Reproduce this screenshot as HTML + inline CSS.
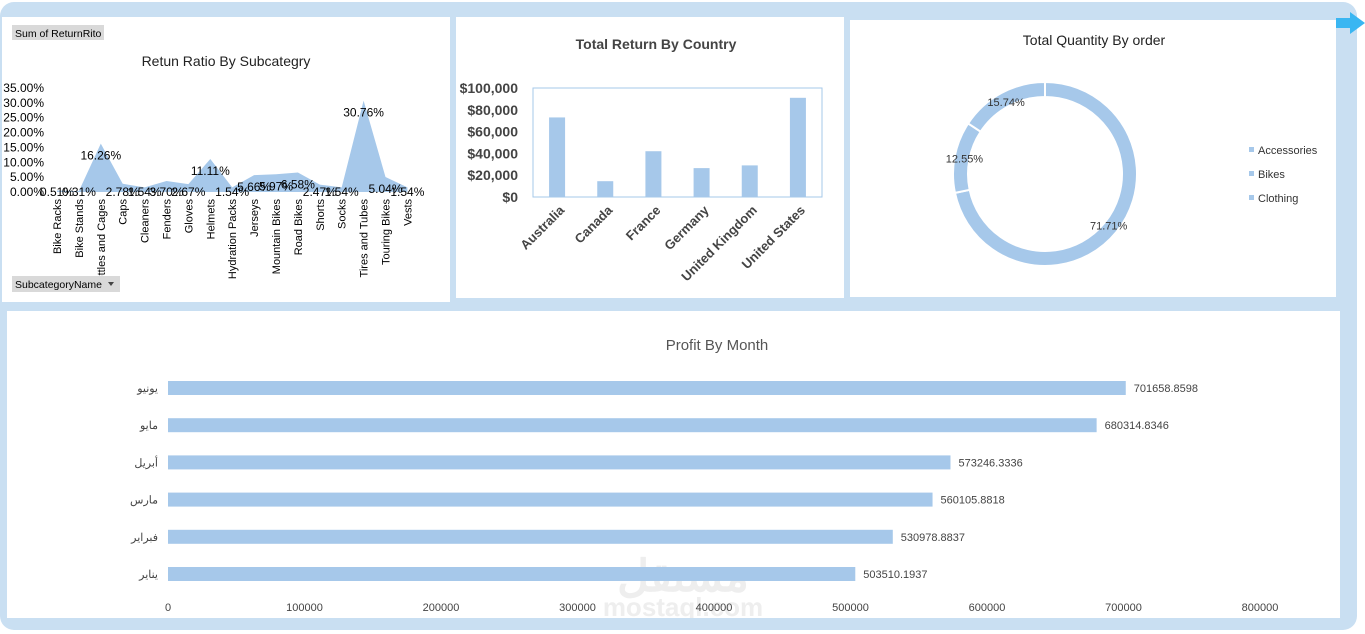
<!DOCTYPE html>
<html><head><meta charset="utf-8"><style>
body{margin:0;width:1365px;height:634px;overflow:hidden;background:#fff;font-family:"Liberation Sans",sans-serif;position:relative}
.frame{position:absolute;left:0;top:2px;width:1357px;height:628px;background:#c9dff2;border-radius:14px}
.p{position:absolute;background:#fff}
svg text{font-family:"Liberation Sans","Noto Sans CJK SC",sans-serif}
</style></head><body>
<div class="frame"></div>
<div style="position:absolute;left:1336px;top:12px;width:29px;height:22px"><svg width="29" height="22"><polygon points="0,6 14,6 14,0 29,11 14,22 14,16 0,16" fill="#3ab6f2"/></svg></div>
<div class="p" style="left:2px;top:17px;width:448px;height:285px"><svg id="c1" width="448" height="285"></svg></div>
<div class="p" style="left:456px;top:17px;width:388px;height:281px"><svg id="c2" width="388" height="281"></svg></div>
<div class="p" style="left:850px;top:20px;width:486px;height:277px"><svg id="c3" width="486" height="277"></svg></div>
<div class="p" style="left:7px;top:311px;width:1333px;height:307px"><svg id="c4" width="1333" height="307"></svg></div>
<script>
const NS="http://www.w3.org/2000/svg";
function mk(svg,tag,attrs,txt){const e=document.createElementNS(NS,tag);for(const k in attrs)e.setAttribute(k,attrs[k]);if(txt!==undefined)e.textContent=txt;svg.appendChild(e);return e;}
// chart 1
const subCats=["Bike Racks","Bike Stands","Bottles and Cages","Caps","Cleaners","Fenders","Gloves","Helmets","Hydration Packs","Jerseys","Mountain Bikes","Road Bikes","Shorts","Socks","Tires and Tubes","Touring Bikes","Vests"];
const subRatio=[0.51,0.31,16.26,2.78,1.54,3.70,2.67,11.11,1.54,5.66,5.97,6.58,2.47,1.54,30.76,5.04,1.54];
const c1Ticks=[0,5,10,15,20,25,30,35];
// chart 2
const countries=["Australia","Canada","France","Germany","United Kingdom","United States"];
const countryReturns=[73000,14500,42000,26500,29000,91000];
const c2Ticks=[0,20000,40000,60000,80000,100000];
// chart 3
const qtyCats=["Accessories","Bikes","Clothing"];
const qtyShares=[71.71,12.55,15.74];
// chart 4
const months=["يونيو","مايو","أبريل","مارس","فبراير","يناير"];
const profits=[701658.8598,680314.8346,573246.3336,560105.8818,530978.8837,503510.1937];
const c4Ticks=[0,100000,200000,300000,400000,500000,600000,700000,800000];

(function(){const s=document.getElementById('c1');
let e=mk(s,'rect',{x:10,y:8,width:92,height:15,fill:'#d9d9d9'});
mk(s,'text',{x:13,y:20,'font-size':10.5,fill:'#000'},'Sum of ReturnRito');
e=mk(s,'text',{x:224,y:49,'font-size':14,'text-anchor':'middle',fill:'#222'},'Retun Ratio By Subcategry');
const y=v=>175-v/35*104, x=i=>55+i*21.9;
c1Ticks.forEach(t=>{e=mk(s,'text',{x:42,y:y(t)+4,'font-size':12,'text-anchor':'end'},t.toFixed(2)+'%');});
let d='M'+x(0)+','+y(0);subRatio.forEach((v,i)=>d+=' L'+x(i)+','+y(v));d+=' L'+x(subRatio.length-1)+','+y(0)+' Z';
e=mk(s,'path',{d:d,fill:'#a6c8ea'});
subRatio.forEach((v,i)=>{e=mk(s,'text',{x:x(i),y:Math.min(y(v)+16,179),'font-size':12,'text-anchor':'middle'},v.toFixed(2)+'%');});
subCats.forEach((c,i)=>{e=mk(s,'text',{x:0,y:0,'font-size':11,'text-anchor':'end',transform:`translate(${x(i)+4},182) rotate(-90)`},c);});
e=mk(s,'rect',{x:10,y:259,width:108,height:16,fill:'#d9d9d9'});
mk(s,'text',{x:13,y:271,'font-size':10.5},'SubcategoryName');mk(s,'path',{d:'M106,265 l6,0 l-3,4 z',fill:'#444'});
})();
(function(){const s=document.getElementById('c2');
let e=mk(s,'text',{x:200,y:32,'font-size':14,'font-weight':'bold','text-anchor':'middle',fill:'#444'},'Total Return By Country');
const y=v=>180-v/100000*109, bw=289/countries.length;
mk(s,'rect',{x:77,y:71,width:289,height:109,fill:'none',stroke:'#a6c8ea'});
c2Ticks.forEach(t=>{e=mk(s,'text',{x:62,y:y(t)+5,'font-size':14,'font-weight':'bold','text-anchor':'end',fill:'#444'},'$'+t.toLocaleString('en-US'));});
countryReturns.forEach((v,i)=>{const cx=77+bw*(i+0.5);e=mk(s,'rect',{x:cx-8,y:y(v),width:16,height:180-y(v),fill:'#a6c8ea'});
e=mk(s,'text',{x:0,y:0,'font-size':13,'font-weight':'bold','text-anchor':'end',fill:'#444',transform:`translate(${cx+8},194) rotate(-45)`},countries[i]);});
})();
(function(){const s=document.getElementById('c3');
let e=mk(s,'text',{x:244,y:25,'font-size':14,'text-anchor':'middle',fill:'#222'},'Total Quantity By order');
const cx=195,cy=154,R=92,r=77;let a=-Math.PI/2;const tot=qtyShares.reduce((p,q)=>p+q,0);
qtyShares.forEach((v,i)=>{const b=a+v/tot*2*Math.PI,lg=(b-a)>Math.PI?1:0;const P=(rr,t)=>(cx+rr*Math.cos(t))+','+(cy+rr*Math.sin(t));
e=mk(s,'path',{d:`M${P(R,a)} A${R},${R} 0 ${lg} 1 ${P(R,b)} L${P(r,b)} A${r},${r} 0 ${lg} 0 ${P(r,a)} Z`,fill:'#a6c8ea',stroke:'#fff','stroke-width':2});
const m=(a+b)/2;const lx=cx+82*Math.cos(m),ly=cy+82*Math.sin(m)+4;
e=mk(s,'text',{x:lx,y:ly,'font-size':11,'text-anchor':'middle',fill:'#333'},v.toFixed(2)+'%');a=b;});
qtyCats.forEach((c,i)=>{e=mk(s,'rect',{x:399,y:127+i*24,width:5,height:5,fill:'#a6c8ea'});
e=mk(s,'text',{x:408,y:134+i*24,'font-size':11,fill:'#333'},c);});
})();
(function(){const s=document.getElementById('c4');
let e=mk(s,'text',{x:710,y:39,'font-size':15,'text-anchor':'middle',fill:'#555'},'Profit By Month');
const x=v=>161+v/800000*1092;
mk(s,'text',{x:676,y:280,'font-size':44,'font-weight':'bold','text-anchor':'middle',fill:'#eee'},'مستقل');
mk(s,'text',{x:676,y:305,'font-size':26,'font-weight':'bold','text-anchor':'middle',fill:'#eee'},'mostaql.com');
c4Ticks.forEach(t=>{e=mk(s,'text',{x:x(t),y:300,'font-size':11,'text-anchor':'middle',fill:'#444'},t);});
profits.forEach((v,i)=>{const cy=77+i*37.2;e=mk(s,'rect',{x:x(0),y:cy-7,width:x(v)-x(0),height:14,fill:'#a6c8ea'});
e=mk(s,'text',{x:x(v)+8,y:cy+4,'font-size':11,fill:'#444'},v);
e=mk(s,'text',{x:151,y:cy+4,'font-size':11,'text-anchor':'end',fill:'#444'},months[i]);});
})();
</script>
</body></html>
